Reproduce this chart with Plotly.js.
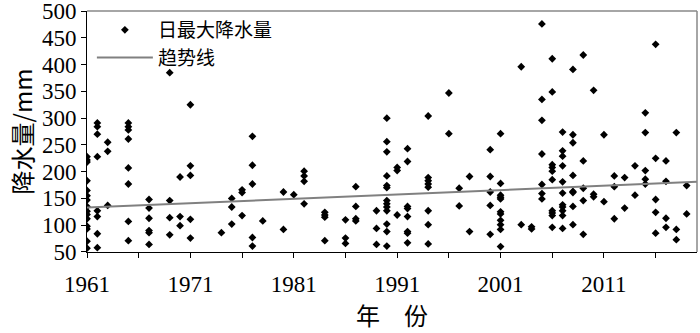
<!DOCTYPE html>
<html><head><meta charset="utf-8">
<script src="https://cdn.plot.ly/plotly-3.0.1.min.js"></script>
<style>body{margin:0;background:#fff}#c{width:700px;height:333px}</style>
</head><body><div id="c"></div>
<script>
// 年份 -> 各站日最大降水量 (mm)
const yearGroups = [
  [1961, [228,222,218,183,165,155,147,135,126,120,112,98,93,70,57]],
  [1962, [291,284,270,228,127,116,84,58]],
  [1963, [255,238,137]],
  [1965, [291,284,278,261,207,177,107,71]],
  [1967, [148,132,113,90,86,64]],
  [1969, [385,146,114,82]],
  [1970, [190,116,99]],
  [1971, [325,211,193,111,76]],
  [1974, [86]],
  [1975, [150,134,102]],
  [1976, [166,161,118]],
  [1977, [266,212,177,77,61]],
  [1978, [108]],
  [1980, [162,92]],
  [1981, [157]],
  [1982, [201,192,182,140]],
  [1984, [124,119,115,71]],
  [1986, [110,76,66]],
  [1987, [172,135,112,108]],
  [1989, [127,94,64]],
  [1990, [300,256,237,192,174,170,146,140,134,127,102,88,61]],
  [1991, [208,202,119]],
  [1992, [243,219,135,131,116,88,85,67]],
  [1994, [304,189,183,177,171,127,101,65]],
  [1996, [347,271]],
  [1997, [169,136]],
  [1998, [191,88]],
  [2000, [241,191,162,137,83]],
  [2001, [271,178,156,152,149,125,121,109,101,92,60]],
  [2003, [396,101]],
  [2004, [97,93]],
  [2005, [476,335,296,233,176,159,149]],
  [2006, [411,349,213,208,201,185,127,123,118,96]],
  [2007, [274,239,229,211,181,160,138,134,127,118,94]],
  [2008, [391,269,254,193,163,161,135,101]],
  [2009, [418,220,169,146,83]],
  [2010, [352,158,153]],
  [2011, [269,144]],
  [2012, [192,172,112]],
  [2013, [189,132]],
  [2014, [211,156]],
  [2015, [310,273,202,186,177]],
  [2016, [438,225,148,124,85]],
  [2017, [220,182,113,96]],
  [2018, [273,92,73]],
  [2019, [174,121]]
];
const trendYears = [1961, 2020];
const trendValues = [133, 181];
const xTickVals = [1961, 1971, 1981, 1991, 2001, 2011];
const xTickText = ['1961', '1971', '1981', '1991', '2001', '2011'];
const yTickVals = [50,100,150,200,250,300,350,400,450,500];

const px = [], py = [];
yearGroups.forEach(([yr, vals]) => vals.forEach(v => { px.push(yr); py.push(v); }));

const serif = 'Liberation Serif, Times New Roman, serif';
const cjk = 'Noto Sans CJK SC, sans-serif';

const data = [
  {x: px, y: py, type: 'scatter', mode: 'markers', name: '日最大降水量',
   marker: {symbol: 'diamond', size: 6, color: '#000'}},
  {x: trendYears, y: trendValues, type: 'scatter', mode: 'lines', name: '趋势线',
   line: {color: '#808080', width: 2}}
];
const layout = {
  width: 700, height: 333,
  margin: {l: 87, r: 3, t: 11, b: 81},
  paper_bgcolor: '#fff', plot_bgcolor: '#fff',
  showlegend: true,
  legend: {x: 0.008, y: 1.0, xanchor: 'left', yanchor: 'top', bgcolor: 'rgba(0,0,0,0)',
           font: {family: cjk, size: 19, color: '#000'}, itemwidth: 56, tracegroupgap: 0},
  xaxis: {range: [1961, 2020], tickvals: xTickVals, ticktext: xTickText,
          ticks: 'outside', ticklen: 5, tickcolor: '#000', ticklabelstandoff: 6,
          minor: {dtick: 5, tick0: 1961, ticks: 'outside', ticklen: 5, tickcolor: '#000'},
          showline: true, linecolor: '#000', linewidth: 1, showgrid: false, zeroline: false,
          tickfont: {family: serif, size: 23, color: '#000'},
          title: {text: '年　份', font: {family: cjk, size: 24, color: '#000'}, standoff: 12}},
  yaxis: {range: [49.9, 500.2], tickvals: yTickVals, ticks: 'outside', ticklen: 5, tickcolor: '#000',
          ticklabeloverflow: 'allow',
          showline: true, linecolor: '#000', linewidth: 1, showgrid: false, zeroline: false,
          tickfont: {family: serif, size: 23, color: '#000'},
          title: {text: '降水量/mm', font: {family: cjk, size: 24, color: '#000'}, standoff: 2}},
  shapes: [
    {type: 'line', xref: 'paper', yref: 'paper', x0: 0, x1: 1, y0: 1, y1: 1, line: {color: '#888', width: 1.5}},
    {type: 'line', xref: 'paper', yref: 'paper', x0: 1, x1: 1, y0: 0, y1: 1, line: {color: '#888', width: 1.5}}
  ]
};
Plotly.newPlot('c', data, layout, {displayModeBar: false, staticPlot: true});
</script></body></html>
